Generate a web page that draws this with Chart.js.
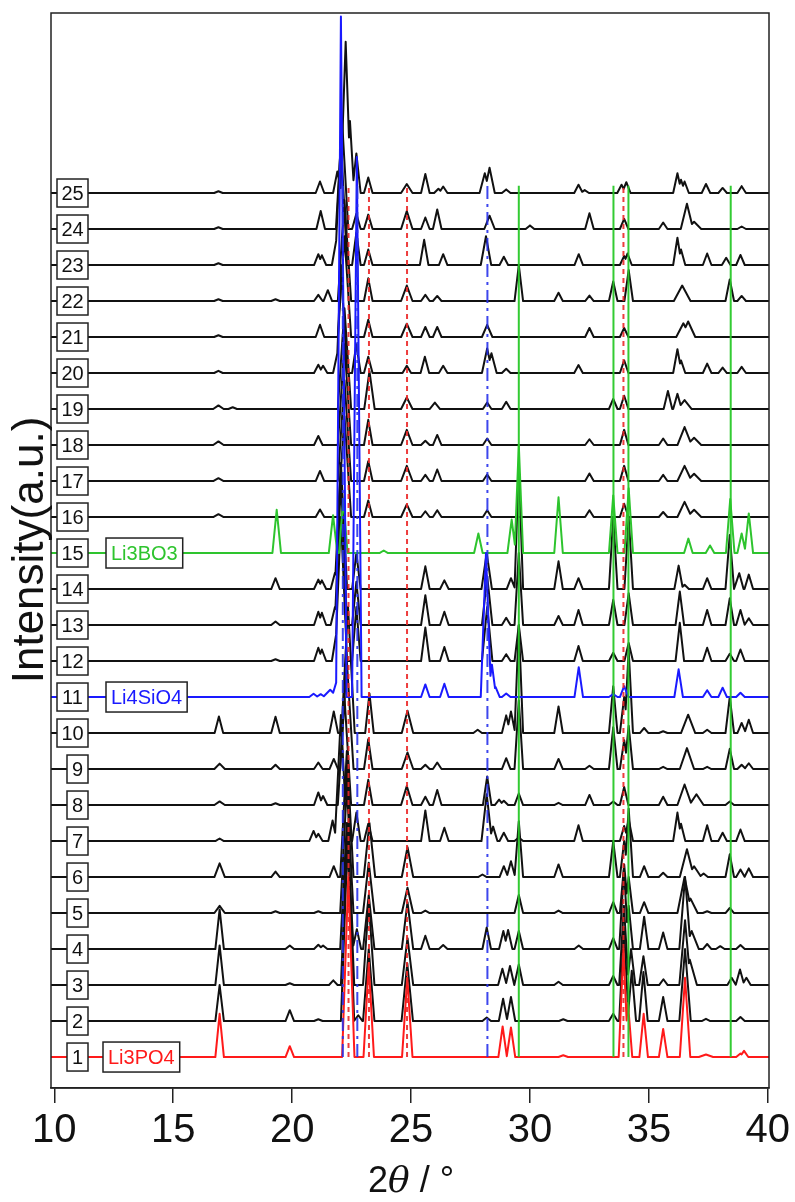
<!DOCTYPE html>
<html>
<head>
<meta charset="utf-8">
<script src="https://cdn.jsdelivr.net/npm/chart.js@4.4.1/dist/chart.umd.min.js"></script>
<style>
	html, body { margin: 0; padding: 0; background: #fff; }
	#wrap { width: 795px; height: 1202px; }
</style>
</head>
<body>
<div id="wrap"><canvas id="xrdChart" width="795" height="1202"></canvas></div>
<script>
// 2theta range and tick labels
const xMin = 9.86;
const xMax = 40.05;
const xTicks = [10, 15, 20, 25, 30, 35, 40];

// each trace: [2theta, peak height (in units of trace spacing), optional half base width]
const trace01 = [[16.95,1.2],[19.9,0.3],[22.36,5.0,0.26],[23.22,2.6,0.22],[24.84,2.2,0.22],[28.85,0.85],[29.2,0.82],[31.4,0.05,0.2],[33.93,3.0,0.2],[34.12,1.5],[34.78,1.2],[35.6,0.78],[36.52,2.2,0.22],[37.4,0.07,0.3],[38.85,0.1],[39.0,0.17]];
const trace02 = [[16.95,1.0],[19.9,0.3],[21.1,0.05],[22.33,5.0,0.28],[22.78,0.16],[23.22,2.0,0.24],[24.84,1.6,0.24],[28.18,0.1],[28.87,0.62],[29.2,0.67],[31.4,0.05],[33.5,0.2],[33.95,2.6,0.2],[34.28,1.4],[34.77,1.36],[35.6,0.67],[36.52,2.0,0.24],[37.4,0.06],[38.85,0.11]];
const trace03 = [[16.95,1.1],[19.9,0.05],[21.73,0.13],[22.33,4.5,0.28],[23.22,2.3,0.24],[24.85,1.3,0.24],[28.84,0.45],[29.16,0.53],[29.53,0.57],[31.2,0.09],[33.5,0.25],[33.95,2.2,0.2],[34.25,1.0],[34.77,0.8],[35.61,0.16],[36.52,1.8,0.24],[36.72,0.7,0.3],[38.48,0.2],[38.83,0.43],[39.1,0.2]];
const trace04 = [[16.95,1.1],[19.9,0.1],[21.1,0.12],[21.3,0.1],[22.3,3.5,0.28],[22.72,0.55],[23.22,1.5,0.24],[24.85,1.3,0.24],[25.6,0.37],[26.35,0.11],[28.18,0.6],[28.88,0.5],[29.08,0.53],[29.53,0.5],[32.05,0.1],[33.5,0.3],[33.95,2.2,0.2],[34.15,1.2],[34.8,0.9],[35.6,0.46],[36.52,2.0,0.24],[36.8,0.5,0.3],[37.45,0.14],[38.0,0.08],[38.85,0.11]];
const trace05 = [[16.95,0.2,0.22],[19.3,0.05],[21.1,0.05],[22.3,3.5,0.28],[23.22,1.4,0.24],[24.85,0.7,0.24],[25.6,0.07],[29.53,0.5],[31.2,0.07],[33.5,0.3],[33.96,1.35],[34.15,1.0],[34.8,0.3],[36.5,1.0,0.3],[36.75,0.4,0.3],[37.45,0.05],[38.4,0.14]];
const trace06 = [[16.95,0.38,0.22],[19.3,0.15],[21.75,0.3],[22.3,3.5,0.28],[23.25,1.5,0.24],[24.85,0.83,0.24],[28.0,0.07],[28.9,0.3],[29.2,0.44],[29.53,1.55],[31.2,0.35],[33.5,1.0],[33.96,1.0],[34.15,1.9],[34.8,0.3],[35.6,0.12],[36.6,0.77,0.3],[36.9,0.3,0.3],[37.3,0.1],[38.4,0.63],[38.85,0.21],[39.2,0.24]];
const trace07 = [[16.95,0.07],[20.9,0.28],[21.1,0.2],[21.7,0.57],[22.05,3.5,0.26],[22.3,2.0],[22.7,0.79],[23.2,0.48],[25.6,0.85],[26.4,0.37],[28.18,1.3,0.22],[28.45,0.4],[28.9,0.23],[29.53,0.1],[32.04,0.44],[33.96,0.42],[34.15,0.6],[36.2,0.79],[36.35,0.48],[37.45,0.44],[38.1,0.23],[38.85,0.32]];
const trace08 = [[16.95,0.1,0.22],[19.3,0.05],[21.1,0.35],[21.3,0.25],[22.2,3.0,0.28],[23.2,0.7],[24.82,0.53,0.24],[25.6,0.23],[26.1,0.42],[28.2,0.79],[28.7,0.15],[28.9,0.12],[29.53,0.32],[31.2,0.06],[32.5,0.28],[33.5,0.1],[33.96,0.5],[35.6,0.23],[36.5,0.57,0.3],[37.0,0.3,0.3],[38.4,0.1]];
const trace09 = [[16.95,0.15,0.22],[19.3,0.12],[21.1,0.18],[21.75,0.28],[22.3,3.0,0.28],[23.2,0.83],[24.85,0.46,0.24],[25.6,0.12],[26.1,0.18],[29.0,0.3],[29.53,1.9],[31.2,0.28],[32.5,0.09],[33.5,1.16],[33.96,0.8],[34.15,1.2],[35.6,0.06],[36.6,0.58,0.3],[37.45,0.06],[38.4,0.56],[38.9,0.12],[39.2,0.16]];
const trace10 = [[16.92,0.46],[19.3,0.45],[21.75,0.6],[22.35,3.5,0.28],[23.25,1.1],[24.85,0.62,0.24],[27.8,0.09],[29.0,0.49],[29.2,0.6],[29.53,3.0],[31.2,0.74],[33.5,1.3],[33.96,1.0],[34.15,2.3],[34.8,0.14],[35.6,0.05],[36.65,0.51,0.3],[37.45,0.09],[38.4,1.0],[38.9,0.28],[39.2,0.37]];
const trace11 = [[20.9,0.09],[21.2,0.08],[21.6,0.2,0.3],[21.85,0.4],[22.05,18.9,0.24],[22.72,15.0,0.2],[25.6,0.35],[26.4,0.37],[28.15,4.0,0.22],[28.4,0.9],[28.55,0.28],[29.0,0.1],[32.05,0.83],[33.5,0.08],[33.96,0.3],[36.25,0.77],[37.45,0.19],[38.1,0.26],[38.85,0.12]];
const trace12 = [[19.3,0.05],[21.1,0.37],[21.25,0.32],[21.85,0.74],[22.05,4.0,0.26],[22.7,1.5],[25.6,0.93],[26.4,0.39],[28.2,1.5,0.22],[29.0,0.19],[29.53,1.0],[32.04,0.42],[33.5,0.23],[34.15,0.5],[36.3,1.06],[37.45,0.37],[38.4,0.2],[38.85,0.32]];
const trace13 = [[19.3,0.1],[21.1,0.37],[21.25,0.34],[21.8,0.5],[22.05,4.0,0.26],[22.7,1.2],[25.6,0.83],[26.4,0.37],[28.2,1.35,0.22],[29.0,0.2],[29.53,2.0],[31.2,0.25],[32.04,0.42],[33.5,0.7],[34.15,0.88],[36.3,0.93],[37.45,0.42],[38.4,0.74],[38.85,0.42],[39.2,0.19]];
const trace14 = [[19.3,0.3],[21.1,0.26],[21.25,0.24],[21.8,0.45],[22.05,3.5,0.26],[22.7,1.0],[25.6,0.63],[26.4,0.24],[28.18,1.0,0.22],[29.2,0.3],[29.53,3.4],[31.2,0.77],[32.04,0.3],[33.5,2.0],[34.15,2.0],[36.25,0.65],[36.5,0.12],[37.45,0.3],[38.4,1.5],[38.8,0.44],[39.2,0.4]];
const trace15 = [[19.35,1.2],[21.72,1.05],[22.15,1.5],[23.85,0.07],[27.83,0.54],[29.23,0.93],[29.53,3.0],[31.2,1.55],[33.5,1.6],[34.15,1.8],[36.66,0.4],[37.57,0.21],[38.42,1.5],[38.9,0.54],[39.2,1.1]];
const trace16 = [[16.9,0.08,0.22],[21.17,0.21],[22.2,2.8,0.28],[23.2,0.46],[24.82,0.35,0.24],[25.6,0.16],[26.1,0.19],[28.2,0.19],[32.5,0.19],[33.96,0.37],[35.6,0.14],[36.5,0.42,0.3],[36.9,0.2,0.3]];
const trace17 = [[16.9,0.08,0.22],[21.17,0.28],[22.2,2.8,0.28],[23.2,0.55],[24.82,0.42,0.24],[25.6,0.17],[26.1,0.32],[28.2,0.18],[32.5,0.21],[33.96,0.42],[35.6,0.17],[36.5,0.42,0.3],[36.9,0.2,0.3]];
const trace18 = [[16.9,0.1,0.22],[21.1,0.25],[22.2,2.8,0.28],[23.2,0.7],[24.82,0.42,0.24],[25.6,0.12],[26.1,0.28],[28.2,0.18],[32.5,0.16],[33.96,0.42],[35.6,0.18],[36.5,0.5,0.3],[36.9,0.2,0.3]];
const trace19 = [[16.9,0.1,0.22],[17.5,0.05],[22.2,2.8,0.28],[23.25,1.05,0.22],[24.82,0.32,0.24],[26.0,0.18,0.22],[28.2,0.18],[29.0,0.2],[33.5,0.28],[33.96,0.37],[35.8,0.5],[36.2,0.42],[36.5,0.25,0.3]];
const trace20 = [[16.9,0.06],[21.1,0.23],[21.3,0.2],[21.9,0.55],[22.05,3.0,0.26],[22.7,0.8],[23.2,0.45],[24.82,0.2],[25.58,0.45],[26.35,0.2],[28.2,0.68,0.22],[28.38,0.55,0.22],[29.0,0.12],[32.04,0.22],[33.96,0.35],[36.2,0.66],[36.35,0.35],[37.45,0.26],[38.1,0.15],[38.9,0.17]];
const trace21 = [[16.9,0.05],[21.17,0.34],[22.2,2.8,0.28],[23.2,0.48],[24.82,0.37,0.24],[25.6,0.28],[26.1,0.28],[28.2,0.34,0.22],[32.5,0.25],[33.96,0.25],[36.45,0.38,0.3],[36.65,0.43,0.3]];
const trace22 = [[16.9,0.05],[19.3,0.05],[21.1,0.17],[21.5,0.3],[22.2,2.8,0.28],[23.2,0.63],[24.82,0.43,0.24],[25.6,0.17],[26.1,0.14],[29.53,1.0],[31.2,0.23],[32.5,0.15],[33.5,0.54],[34.15,0.86],[36.4,0.43,0.35],[38.4,0.6],[38.9,0.14]];
const trace23 = [[16.9,0.05],[21.1,0.3],[21.25,0.27],[21.85,0.67],[22.05,3.5,0.26],[22.7,0.9],[23.2,0.43],[25.55,0.7],[26.35,0.3],[28.15,0.8,0.22],[28.9,0.23],[32.05,0.3],[33.96,0.25],[34.1,0.32],[36.2,0.76],[36.35,0.43],[37.45,0.32],[38.25,0.2],[38.85,0.28]];
const trace24 = [[16.9,0.05],[21.2,0.5],[22.1,3.0,0.26],[22.7,0.42],[23.2,0.4],[24.82,0.5,0.24],[25.6,0.32],[26.1,0.54],[28.3,0.37,0.22],[30.0,0.1],[32.5,0.44],[33.96,0.28],[35.6,0.18],[36.6,0.7,0.26],[36.9,0.2,0.3],[38.9,0.07]];
const trace25 = [[16.9,0.05],[21.17,0.32],[21.9,0.6],[22.25,4.2,0.22],[22.43,2.0],[22.7,1.1],[23.2,0.43],[24.82,0.25,0.24],[25.6,0.53],[26.15,0.12],[26.35,0.18],[28.1,0.55,0.22],[28.3,0.7,0.22],[29.0,0.1],[32.04,0.23],[32.3,0.08],[33.85,0.23],[34.05,0.3],[36.2,0.55],[36.35,0.37],[36.5,0.32],[37.4,0.25],[38.1,0.14],[38.9,0.19]];

const traces = [trace01, trace02, trace03, trace04, trace05, trace06, trace07, trace08, trace09, trace10,
	trace11, trace12, trace13, trace14, trace15, trace16, trace17, trace18, trace19, trace20,
	trace21, trace22, trace23, trace24, trace25];
// vertical offset of each trace (baseline), in trace-spacing units
const offsets = traces.map((t, i) => i);

// reference phases
const phaseNames = { 1: 'Li3PO4', 11: 'Li4SiO4', 15: 'Li3BO3' };
const refLi3PO4 = [22.37, 23.23, 24.83, 33.93];
const refLi4SiO4 = [22.13, 22.74, 28.21];
const refLi3BO3 = [29.53, 33.51, 34.14, 38.44];
const refTop = 24.2;

const BLACK = '#111111';
const RED = '#ff1a1a';
const BLUE = '#1a1aff';
const GREEN = '#2ec42e';
const PEAK_W = 0.18;
const FONT = '"Liberation Sans", Arial, Helvetica, sans-serif';

function traceColor(n) {
	if (n === 1) return RED;
	if (n === 11) return BLUE;
	if (n === 15) return GREEN;
	return BLACK;
}

// turn a peak list into the polyline the chart draws
function buildProfile(peaks, offset) {
	const ps = peaks.map((p) => ({ pos: p[0], h: p[1], w: p[2] || PEAK_W })).sort((a, b) => a.pos - b.pos);
	const pts = [{ x: xMin, y: offset }];
	ps.forEach((p, i) => {
		const prev = ps[i - 1];
		if (!prev || prev.pos + prev.w <= p.pos - p.w) {
			if (prev) pts.push({ x: prev.pos + prev.w, y: offset });
			pts.push({ x: p.pos - p.w, y: offset });
		} else {
			const a = prev.h / prev.w;
			const b = p.h / p.w;
			const R = prev.pos + prev.w;
			const L = p.pos - p.w;
			const xv = (a * R + b * L) / (a + b);
			if (xv > prev.pos && xv < p.pos) pts.push({ x: xv, y: offset + a * (R - xv) });
		}
		pts.push({ x: p.pos, y: offset + p.h });
	});
	const last = ps[ps.length - 1];
	pts.push({ x: last.pos + last.w, y: offset });
	pts.push({ x: xMax, y: offset });
	return pts;
}

function refDatasets(list, color, dash, width) {
	return list.map((pos) => ({
		data: [{ x: pos, y: 0 }, { x: pos, y: refTop }],
		borderColor: color,
		borderWidth: width,
		borderDash: dash,
		pointRadius: 0,
		order: 0,
	}));
}

const datasets = [
	...refDatasets(refLi3PO4, 'rgba(235,40,40,0.9)', [5, 4], 2),
	...refDatasets(refLi4SiO4, 'rgba(40,50,235,0.9)', [13, 5, 3, 5], 2),
	...refDatasets(refLi3BO3, 'rgba(40,200,40,0.95)', [], 2),
];
traces.forEach((t, i) => {
	const n = i + 1;
	datasets.push({
		label: String(n),
		data: buildProfile(t, offsets[i]),
		borderColor: traceColor(n),
		borderWidth: 2,
		borderJoinStyle: 'round',
		pointRadius: 0,
		tension: 0,
		order: traceColor(n) === BLACK ? 2 : 1,
	});
});

const labelPlugin = {
	id: 'labels',
	afterDatasetsDraw(chart) {
		const ctx = chart.ctx;
		const ys = chart.scales.y;
		const area = chart.chartArea;
		ctx.save();
		ctx.textAlign = 'center';
		ctx.textBaseline = 'middle';
		offsets.forEach((off, i) => {
			const n = i + 1;
			const y = ys.getPixelForValue(off);
			const x0 = n < 10 ? 67 : 57;
			const w = 88 - x0;
			ctx.fillStyle = '#fff';
			ctx.fillRect(x0, y - 14, w, 28);
			ctx.strokeStyle = '#222';
			ctx.lineWidth = 1.5;
			ctx.strokeRect(x0, y - 14, w, 28);
			ctx.fillStyle = '#111';
			ctx.font = '20px ' + FONT;
			ctx.fillText(String(n), x0 + w / 2, y + 1);
			if (phaseNames[n]) {
				const name = phaseNames[n];
				const tw = ctx.measureText(name).width;
				const bx = n === 1 ? 103 : 106;
				const bw = tw + 10;
				ctx.fillStyle = '#fff';
				ctx.fillRect(bx, y - 15, bw, 30);
				ctx.strokeStyle = '#222';
				ctx.strokeRect(bx, y - 15, bw, 30);
				ctx.fillStyle = traceColor(n);
				ctx.fillText(name, bx + bw / 2, y + 1);
			}
		});
		// frame
		ctx.strokeStyle = '#222';
		ctx.lineWidth = 1.5;
		ctx.strokeRect(area.left, area.top, area.right - area.left, area.bottom - area.top);
		// axis titles
		ctx.fillStyle = '#111';
		ctx.textBaseline = 'alphabetic';
		ctx.textAlign = 'left';
		const cx = (chart.scales.x.getPixelForValue(10) + chart.scales.x.getPixelForValue(40)) / 2;
		const parts = [['2', '36px ' + FONT], ['\u03B8', 'italic 36px "DejaVu Serif", serif'], [' / \u00B0', '36px ' + FONT]];
		let total = 0;
		parts.forEach((p) => { ctx.font = p[1]; total += ctx.measureText(p[0]).width; });
		let tx = cx - total / 2;
		parts.forEach((p) => { ctx.font = p[1]; ctx.fillText(p[0], tx, 1192); tx += ctx.measureText(p[0]).width; });
		ctx.translate(31, 550);
		ctx.rotate(-Math.PI / 2);
		ctx.textAlign = 'center';
		ctx.textBaseline = 'middle';
		ctx.font = '44px ' + FONT;
		ctx.fillText('Intensity(a.u.)', 0, 0);
		ctx.restore();
	},
};

new Chart(document.getElementById('xrdChart').getContext('2d'), {
	type: 'line',
	data: { datasets },
	options: {
		responsive: false,
		animation: false,
		devicePixelRatio: 1,
		layout: { padding: { left: 51, right: 26, top: 13, bottom: 0 } },
		plugins: { legend: { display: false }, tooltip: { enabled: false } },
		elements: { line: { tension: 0 } },
		scales: {
			x: {
				type: 'linear',
				min: xMin,
				max: xMax,
				afterBuildTicks: (scale) => { scale.ticks = xTicks.map((v) => ({ value: v })); },
				afterFit: (scale) => { scale.height = 114; },
				grid: { display: true, drawOnChartArea: false, drawTicks: true, tickLength: 15, color: '#222', lineWidth: 1.5 },
				border: { display: true, color: '#222', width: 1.5 },
				ticks: { color: '#111', font: { size: 40, family: FONT }, padding: 4, maxRotation: 0, autoSkip: false },
			},
			y: {
				type: 'linear',
				min: -0.86,
				max: 29.0,
				display: false,
			},
		},
	},
	plugins: [labelPlugin],
});
</script>
</body>
</html>
